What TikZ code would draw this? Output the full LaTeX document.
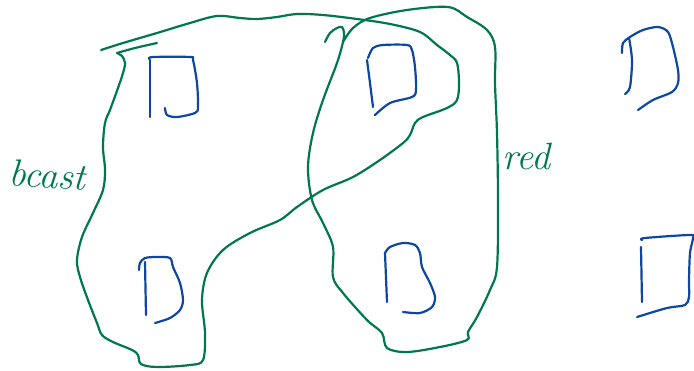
\documentclass[tikz,border=0pt]{standalone}
\definecolor{pen}{RGB}{0,119,80}
\definecolor{ink}{RGB}{13,71,161}
\tikzset{
  loopline/.style={draw=pen, line width=2.2pt, line cap=round, line join=round},
  dline/.style={draw=ink, line width=2.2pt, line cap=round, line join=round},
  lbl/.style={text=pen, font=\fontsize{38}{38}\selectfont\itshape, inner sep=0pt}
}
\begin{document}
\begin{tikzpicture}[x=1pt,y=-1pt]
\useasboundingbox (0,0) rectangle (694,370);
% left loop (bcast)
\draw[loopline] plot[smooth, tension=0.55] coordinates {(101,50) (123,43) (157,33) (190,23) (217,16) (240,18) (257,19) (277,17) (297,14) (323,15) (357,19) (390,24) (420,32) (437,45) (450,55) (457,63) (459,83) (457,100) (447,108) (423,117) (415,123) (410,135) (403,143) (380,160) (353,177) (323,190) (297,207) (280,220) (250,233) (223,250) (207,273) (202,300) (205,333) (203,360) (190,365) (157,367) (141,364) (138,355) (132,350) (113,342) (102,335) (97,323) (88,300) (80,277) (77,260) (82,237) (93,213) (103,190) (105,170) (103,147) (105,123) (110,110) (118,88) (123,73) (125,63) (122,56) (117,53)};
\draw[loopline] plot[smooth, tension=0.5] coordinates {(117,53) (135,48) (157,43)};
% right loop (red)
\draw[loopline] plot[smooth, tension=0.55] coordinates {(325,42) (330,33) (337,28) (342,27) (344,33) (343,42) (337,63) (323,100) (313,133) (308,167) (312,200) (323,223) (333,247) (333,277) (343,293) (367,320) (382,333) (387,348) (407,352) (440,347) (467,340) (468,332) (477,317) (490,290) (497,267) (498,200) (497,133) (495,83) (495,47) (487,30) (467,17) (448,7) (407,10) (370,18) (353,28) (343,42)};
% D shapes
% D1
\draw[dline] (150,60) -- (150,117);
\draw[dline] plot[smooth, tension=0.5] coordinates {(149,59) (153,57) (190,57) (193,60) (197,83) (198,107) (195,113) (177,117) (167,115) (165,108)};
% D2
\draw[dline] plot[smooth, tension=0.5] coordinates {(367,60) (370,83) (373,107)};
\draw[dline] plot[smooth, tension=0.5] coordinates {(368,58) (373,48) (383,45) (407,45) (412,50) (415,67) (416,90) (412,97) (390,103) (375,115)};
% D3
\draw[dline] (145,262) -- (146,315);
\draw[dline] plot[smooth, tension=0.5] coordinates {(139,270) (140,263) (145,258) (157,257) (170,258) (173,267) (180,283) (183,300) (180,310) (170,318) (155,323)};
% D4
\draw[dline] (385,253) -- (387,302);
\draw[dline] plot[smooth, tension=0.5] coordinates {(385,253) (390,247) (403,243) (415,245) (420,253) (422,267) (430,283) (435,297) (432,307) (420,313) (403,312)};
% D5
\draw[dline] plot[smooth, tension=0.5] coordinates {(629,38) (632,60) (630,87) (625,94)};
\draw[dline] plot[smooth, tension=0.5] coordinates {(622,53) (623,43) (630,37) (643,30) (658,27) (668,32) (673,47) (678,70) (678,83) (672,92) (653,100) (638,110)};
% D6
\draw[dline] (641,247) -- (642,302);
\draw[dline] plot[smooth, tension=0.5] coordinates {(642,240) (645,238) (690,235) (693,238) (690,253) (689,280) (689,297) (685,305) (667,308) (637,317)};
% labels
\node[lbl, anchor=base west, rotate=-4] (bcast) at (8,185) {bcast};
\node[lbl, anchor=base west] (red) at (502,169) {red};
\end{tikzpicture}
\end{document}
